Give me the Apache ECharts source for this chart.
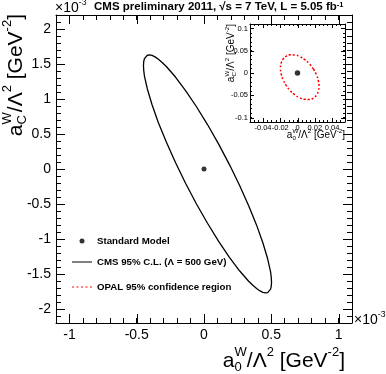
<!DOCTYPE html>
<html>
<head>
<meta charset="utf-8">
<script src="https://cdn.jsdelivr.net/npm/echarts@6/dist/echarts.min.js"></script>
<style>
  html, body { margin: 0; padding: 0; background: #fff; }
  #chart { width: 386px; height: 374px; }
</style>
</head>
<body>
<div id="chart"></div>
<script>
// CMS 95% C.L. contour (units of 1e-3 GeV^-2)
const cmsX = [0.264, 0.189, 0.109, 0.026, -0.057, -0.137, -0.212, -0.280, -0.311, -0.339, -0.364, -0.386,
  -0.405, -0.421, -0.434, -0.443, -0.448, -0.450, -0.448, -0.443, -0.421, -0.386, -0.339, -0.280,
  -0.212, -0.137, -0.057, 0.026, 0.109, 0.189, 0.264, 0.332, 0.363, 0.391, 0.416, 0.438, 0.457,
  0.473, 0.486, 0.495, 0.500, 0.502, 0.500, 0.495, 0.473, 0.438, 0.391, 0.332, 0.264];
const cmsY = [-0.233, 0.063, 0.356, 0.635, 0.893, 1.121, 1.314, 1.464, 1.522, 1.568, 1.602, 1.622,
  1.630, 1.625, 1.607, 1.576, 1.533, 1.477, 1.410, 1.331, 1.143, 0.917, 0.662, 0.385,
  0.093, -0.203, -0.496, -0.775, -1.033, -1.261, -1.454, -1.604, -1.662, -1.708, -1.742, -1.762, -1.770,
  -1.765, -1.747, -1.716, -1.673, -1.617, -1.550, -1.471, -1.283, -1.057, -0.802, -0.525, -0.233];

// OPAL 95% region (inset, GeV^-2)
const opalX = [0.0184, 0.0138, 0.0084, 0.0026, -0.0032, -0.0086, -0.0132, -0.0167, -0.0189, -0.0197,
  -0.0189, -0.0167, -0.0132, -0.0086, -0.0032, 0.0026, 0.0084, 0.0138, 0.0184, 0.0219, 0.0241,
  0.0249, 0.0241, 0.0219, 0.0184];
const opalY = [0.0090, 0.0205, 0.0300, 0.0368, 0.0404, 0.0407, 0.0375, 0.0311, 0.0220, 0.0108,
  -0.0019, -0.0150, -0.0278, -0.0393, -0.0488, -0.0556, -0.0592, -0.0595, -0.0563, -0.0500, -0.0408,
  -0.0296, -0.0169, -0.0038, 0.0090];

const smPoint = [0, 0];

// tick labels
const mainXTicks = [-1, -0.5, 0, 0.5, 1];
const mainYTicks = [-2, -1.5, -1, -0.5, 0, 0.5, 1, 1.5, 2];
const insetXTicks = [-0.04, -0.02, 0, 0.02, 0.04];
const insetYTicks = [-0.1, -0.05, 0, 0.05, 0.1];

const FONT = 'Liberation Sans, Arial, Helvetica, sans-serif';
const NAME_SM = 'Standard Model';
const NAME_CMS = 'CMS 95% C.L. (\u039B = 500 GeV)';
const NAME_OPAL = 'OPAL 95% confidence region';

const zip = (xs, ys) => xs.map((x, i) => [x, ys[i]]);

// label only the values listed in the tick array
const tickLabel = ticks => v => {
    const t = ticks.find(t => Math.abs(t - v) < 1e-7);
    return t === undefined ? '' : String(t);
};

// measuring text for the math-like titles
const ctx = document.createElement('canvas').getContext('2d');
const measure = (str, px) => { ctx.font = px + 'px ' + FONT; return ctx.measureText(str).width; };

// segs: {t} normal, {sup}, {sub, sup} stacked
function mathLabel(x, y, rotation, size, segs, anchor) {
    const small = size * 0.62;
    const kids = [];
    let cx = 0;
    const add = (str, px, dy) => {
        kids.push({
            type: 'text', x: cx, y: dy,
            style: { text: str, font: px + 'px ' + FONT, fill: '#000', align: 'left', verticalAlign: 'middle' }
        });
        return measure(str, px);
    };
    segs.forEach(s => {
        if (s.sub !== undefined) {
            const w1 = add(s.sub, small, size * 0.3);
            const w2 = add(s.sup, small, -size * 0.42);
            cx += Math.max(w1, w2);
        } else if (s.sup !== undefined) {
            cx += add(s.sup, small, -size * 0.42);
        } else {
            cx += add(s.t, size, 0);
        }
    });
    if (anchor !== 'left') kids.forEach(k => { k.x -= cx; });
    return { type: 'group', x: x, y: y, rotation: rotation, children: kids };
}

const titleSegs = sub => [
    { t: 'a' }, { sub: sub, sup: 'W' }, { t: '/\u039B' }, { sup: '2' }, { t: ' [GeV' }, { sup: '-2' }, { t: ']' }
];

// long (major) ticks on all four sides, placed through the axis scales
function majorTicks(axisIdx, xs, ys, len, z) {
    return {
        type: 'custom', xAxisIndex: axisIdx, yAxisIndex: axisIdx, silent: true, z: z,
        data: xs.map(v => [v, 0, 0]).concat(ys.map(v => [0, v, 1])),
        renderItem(params, api) {
            const cs = params.coordSys;
            const p = api.coord([api.value(0), api.value(1)]);
            const style = { stroke: '#000', lineWidth: 1 };
            const l = (x1, y1, x2, y2) => ({ type: 'line', shape: { x1, y1, x2, y2 }, style });
            if (api.value(2) === 0) {
                const px = Math.round(p[0]) + 0.5;
                return { type: 'group', children: [
                    l(px, cs.y + cs.height, px, cs.y + cs.height - len),
                    l(px, cs.y, px, cs.y + len)
                ] };
            }
            const py = Math.round(p[1]) + 0.5;
            return { type: 'group', children: [
                l(cs.x, py, cs.x + len, py),
                l(cs.x + cs.width, py, cs.x + cs.width - len, py)
            ] };
        }
    };
}

function valueAxis(opts) {
    return Object.assign({
        type: 'value',
        axisLine: { show: true, onZero: false, lineStyle: { color: '#000', width: 1 } },
        axisTick: { show: true, inside: true, length: 5, lineStyle: { color: '#000' } },
        splitLine: { show: false },
        axisLabel: { show: false }
    }, opts);
}

const mainLabel = (ticks, margin) => ({
    show: true, formatter: tickLabel(ticks), color: '#000', fontSize: 14, fontFamily: FONT, margin: margin
});
const insetLabel = (ticks, margin) => ({
    show: true, formatter: tickLabel(ticks), color: '#000', fontSize: 7.5, fontFamily: FONT, margin: margin
});
const insetTick = { show: true, inside: true, length: 2, lineStyle: { color: '#000' } };

const chart = echarts.init(document.getElementById('chart'), null, { renderer: 'canvas' });

const legendText = { color: '#000', fontSize: 9.7, fontWeight: 'bold', fontFamily: FONT, lineHeight: 12 };
const legendBox = (item, left, top, w, h, padLeft) => ({
    data: [item], left: left, top: top, padding: 0, itemWidth: w, itemHeight: h,
    textStyle: Object.assign({ padding: [0, 0, 0, padLeft] }, legendText), selectedMode: false
});

chart.setOption({
    animation: false,
    backgroundColor: '#fff',
    title: {
        text: '{b|CMS preliminary 2011, \u221As = 7 TeV, L = 5.05 fb}{s|-1}',
        left: 94, top: 1, padding: 0,
        textStyle: {
            rich: {
                b: { fontSize: 11.5, fontWeight: 'bold', fontFamily: FONT, color: '#000' },
                s: { fontSize: 7.5, fontWeight: 'bold', fontFamily: FONT, color: '#000', verticalAlign: 'top' }
            }
        }
    },
    legend: [
        legendBox({ name: NAME_SM, icon: 'circle' }, 79.5, 235, 5, 5, 7.5),
        legendBox({ name: NAME_CMS, icon: 'path://M0,0H20V1H0Z' }, 72, 256, 20, 1.4, 0),
        legendBox({ name: NAME_OPAL,
            icon: 'path://M0,0H2V1H0ZM4.5,0H6.5V1H4.5ZM9,0H11V1H9ZM13.5,0H15.5V1H13.5ZM18,0H20V1H18Z' }, 72, 281, 20, 1.5, 0)
    ],
    grid: [
        { left: 56, top: 15, width: 296, height: 308, show: false },
        { left: 250, top: 24, width: 95, height: 98, show: true, backgroundColor: '#fff', borderWidth: 0, z: 10 }
    ],
    xAxis: [
        valueAxis({ gridIndex: 0, position: 'bottom', min: -1.1, max: 1.1, interval: 0.1, axisLabel: mainLabel(mainXTicks, 5) }),
        valueAxis({ gridIndex: 0, position: 'top', min: -1.1, max: 1.1, interval: 0.1 }),
        valueAxis({ gridIndex: 1, position: 'bottom', min: -0.055, max: 0.055, interval: 0.005, z: 11,
            axisTick: insetTick, axisLabel: insetLabel(insetXTicks, 2) }),
        valueAxis({ gridIndex: 1, position: 'top', min: -0.055, max: 0.055, interval: 0.005, z: 11, axisTick: insetTick })
    ],
    yAxis: [
        valueAxis({ gridIndex: 0, position: 'left', min: -2.2, max: 2.2, interval: 0.1, axisLabel: mainLabel(mainYTicks, 5) }),
        valueAxis({ gridIndex: 0, position: 'right', min: -2.2, max: 2.2, interval: 0.1 }),
        valueAxis({ gridIndex: 1, position: 'left', min: -0.11, max: 0.11, interval: 0.01, z: 11,
            axisTick: insetTick, axisLabel: insetLabel(insetYTicks, 2) }),
        valueAxis({ gridIndex: 1, position: 'right', min: -0.11, max: 0.11, interval: 0.01, z: 11, axisTick: insetTick })
    ],
    series: [
        {
            name: NAME_CMS, type: 'line', xAxisIndex: 0, yAxisIndex: 0,
            data: zip(cmsX, cmsY), smooth: false, symbol: 'none', showSymbol: false,
            lineStyle: { color: '#000', width: 1.3 }, itemStyle: { color: '#000' }
        },
        {
            name: NAME_SM, type: 'scatter', xAxisIndex: 0, yAxisIndex: 0,
            data: [smPoint], symbol: 'circle', symbolSize: 5, itemStyle: { color: '#000' }
        },
        {
            name: NAME_OPAL, type: 'line', xAxisIndex: 2, yAxisIndex: 2, z: 12,
            data: zip(opalX, opalY), smooth: true, symbol: 'none', showSymbol: false,
            lineStyle: { color: '#ff0000', width: 1.5, type: [2, 2] }, itemStyle: { color: '#ff0000' }
        },
        {
            name: NAME_SM, type: 'scatter', xAxisIndex: 2, yAxisIndex: 2, z: 12,
            data: [smPoint], symbol: 'circle', symbolSize: 5.5, itemStyle: { color: '#000' }
        },
        majorTicks(0, mainXTicks, mainYTicks, 9, 3),
        majorTicks(2, insetXTicks, insetYTicks, 4, 12)
    ],
    graphic: [
        mathLabel(16, 14, Math.PI / 2, 21, titleSegs('C')),
        mathLabel(345, 361, 0, 21, titleSegs('0')),
        mathLabel(231, 24, Math.PI / 2, 10, titleSegs('C')),
        mathLabel(345, 135, 0, 10, titleSegs('0')),
        mathLabel(55, 8, 0, 14, [{ t: '\u00D710' }, { sup: '-3' }], 'left'),
        mathLabel(354, 320, 0, 14, [{ t: '\u00D710' }, { sup: '-3' }], 'left')
    ]
});
</script>
</body>
</html>
